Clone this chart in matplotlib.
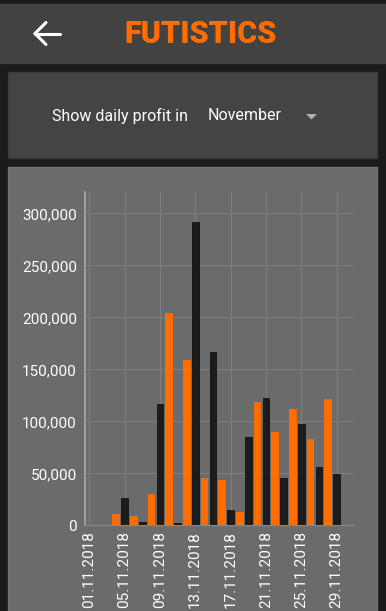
import numpy as np
import matplotlib
matplotlib.use("Agg")
import matplotlib.pyplot as plt
from matplotlib.patches import Rectangle, Polygon
from matplotlib.lines import Line2D
from matplotlib.ticker import FuncFormatter

# daily profit, November 2018 (day 1..30)
days = list(range(1, 31))
profit = [0, 0, 0, 10900, 26000, 8900, 2900, 30400, 116600, 204400,
          2500, 159000, 291600, 45500, 166600, 43600, 14700, 13100, 84600, 118800,
          122100, 89400, 45200, 111500, 97700, 82700, 56000, 121100, 49600, 0]
tick_days = [1, 5, 9, 13, 17, 21, 25, 29]
tick_labels = ["%02d.11.2018" % d for d in tick_days]
y_ticks = [0, 50000, 100000, 150000, 200000, 250000, 300000]

W, H = 386, 611
BG = "#1b1b1b"
HEADER = "#424242"
PANEL = "#6b6b6b"
ORANGE = "#ff6d00"
BLACK = "#1c1c1c"

plt.rcParams['font.family'] = ['Roboto', 'DejaVu Sans']

fig = plt.figure(figsize=(W / 100, H / 100), dpi=100, facecolor=BG)


def px(x, y, w, h):
    # pixel box (top-left origin) -> figure fraction
    return (x / W, 1 - (y + h) / H, w / W, h / H)


def box(x, y, w, h, color, edge=None):
    l, b, ww, hh = px(x, y, w, h)
    fig.patches.append(Rectangle((l, b), ww, hh, transform=fig.transFigure,
                                 facecolor=color, edgecolor=edge or color,
                                 linewidth=1, zorder=-5))


# header bar
box(0, 4, W, 59, HEADER)
# back arrow
for xs, ys in [([35, 60], [33.5, 33.5]), ([35, 46], [33.5, 22.5]), ([35, 46], [33.5, 44.5])]:
    fig.lines.append(Line2D([x / W for x in xs], [1 - y / H for y in ys],
                            transform=fig.transFigure, color="white",
                            linewidth=2.2, solid_capstyle="round"))
fig.text(201 / W, 1 - 34 / H, "FUTISTICS", color=ORANGE, fontsize=22,
         fontweight="heavy", ha="center", va="center")

# month selector panel
box(8, 72, 369, 86, "#444444", edge="#3a3a3a")
fig.text(52 / W, 1 - 116 / H, "Show daily profit in", color="white",
         fontsize=11.5, ha="left", va="center")
fig.text(208 / W, 1 - 116 / H, "November", color="white",
         fontsize=11.5, ha="left", va="center")
fig.patches.append(Polygon([(306 / W, 1 - 114 / H), (317 / W, 1 - 114 / H),
                            (311.5 / W, 1 - 119.5 / H)], closed=True,
                           transform=fig.transFigure, facecolor="#b0b0b0",
                           edgecolor="none"))

# chart panel
box(8, 167, 369, 450, PANEL, edge="#737373")

ax = fig.add_axes([85.3 / W, 1 - 525.3 / H, (352.7 - 85.3) / W, (525.3 - 191.7) / H])
ax.set_facecolor(PANEL)
ax.patch.set_alpha(0)

colors = [ORANGE if d % 2 == 0 else BLACK for d in days]
edges = [ORANGE if d % 2 == 0 else "#111111" for d in days]
ax.bar(days, profit, width=0.76, color=colors, edgecolor=edges, linewidth=0.6, zorder=3)

ax.set_xlim(0.55, 30.83)
ax.set_ylim(0, 320800)
ax.set_xticks(tick_days)
ax.set_xticklabels(tick_labels, rotation=90, va="top", ha="center")
ax.set_yticks(y_ticks)
ax.yaxis.set_major_formatter(FuncFormatter(lambda v, p: "{:,.0f}".format(v)))
ax.tick_params(axis="both", length=0, labelcolor="white", labelsize=11)
ax.tick_params(axis="x", pad=4, labelsize=11)
ax.tick_params(axis="y", pad=6)

ax.grid(True, color="#7e7e7e", linewidth=0.8, zorder=0)
ax.set_axisbelow(True)
for s in ["top", "right"]:
    ax.spines[s].set_visible(False)
ax.spines["left"].set_color("#a8a8a8")
ax.spines["left"].set_linewidth(1.2)
ax.spines["bottom"].set_color("#858585")
ax.spines["bottom"].set_linewidth(1.0)

fig.savefig("out.png", dpi=100, facecolor=BG)
